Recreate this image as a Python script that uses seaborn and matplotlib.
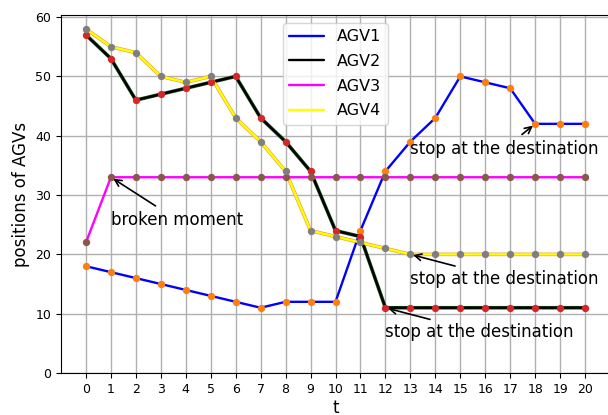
import numpy as np
import pandas as pd
import matplotlib
matplotlib.use("Agg")
import matplotlib.pyplot as plt
import seaborn as sns

# ------------------------------------
# Data
# ------------------------------------
t = list(range(21))
agv1 = [18, 17, 16, 15, 14, 13, 12, 11, 12, 12, 12, 24, 34, 39, 43, 50, 49, 48, 42, 42, 42]
agv2 = [57, 53, 46, 47, 48, 49, 50, 43, 39, 34, 24, 23, 11, 11, 11, 11, 11, 11, 11, 11, 11]
agv3 = [22, 33, 33, 33, 33, 33, 33, 33, 33, 33, 33, 33, 33, 33, 33, 33, 33, 33, 33, 33, 33]
agv4 = [58, 55, 54, 50, 49, 50, 43, 39, 34, 24, 23, 22, 21, 20, 20, 20, 20, 20, 20, 20, 20]
labels = ["AGV1", "AGV2", "AGV3", "AGV4"]

df = pd.DataFrame({"t": t, "AGV1": agv1, "AGV2": agv2, "AGV3": agv3, "AGV4": agv4})

# ------------------------------------
# Figure
# ------------------------------------
sns.set_style("ticks", {"text.color": "black", "axes.labelcolor": "black",
                        "xtick.color": "black", "ytick.color": "black",
                        "axes.edgecolor": "black"})
plt.rcParams["font.family"] = ["DejaVu Sans"]

fig = plt.figure(figsize=(6.08, 4.15), dpi=100)
ax = fig.add_axes([61 / 608, 42 / 415, 549 / 608, 358 / 415])

# under-strokes give the slight tinted edge seen on AGV2 / AGV4
sns.lineplot(data=df, x="t", y="AGV2", color="#1f5a1f", lw=2.6, ax=ax, legend=False)
sns.lineplot(data=df, x="t", y="AGV4", color="#e8a040", lw=2.6, ax=ax, legend=False)

line_colors = ["blue", "black", "magenta", "yellow"]
for name, c in zip(labels, line_colors):
    sns.lineplot(data=df, x="t", y=name, color=c, lw=1.7, label=name, ax=ax)

marker_colors = ["tab:orange", "tab:red", "tab:brown", "tab:gray"]
for name, c in zip(labels, marker_colors):
    sns.scatterplot(data=df, x="t", y=name, color=c, s=28, linewidth=0,
                    ax=ax, legend=False, zorder=3)

# ------------------------------------
# Annotations
# ------------------------------------
arrow = dict(arrowstyle="->", color="black", lw=1.2)
ax.annotate("broken moment", xy=(1, 33), xytext=(1, 25), fontsize=12, arrowprops=arrow)
ax.annotate("stop at the destination", xy=(18, 42), xytext=(13, 37), fontsize=12, arrowprops=arrow)
ax.annotate("stop at the destination", xy=(13, 20), xytext=(13, 15), fontsize=12, arrowprops=arrow)
ax.annotate("stop at the destination", xy=(12, 11), xytext=(12, 6), fontsize=12, arrowprops=arrow)

ax.set_xlim(-1, 21)
ax.set_ylim(0, 60.35)
ax.set_xticks(t)
ax.set_yticks([0, 10, 20, 30, 40, 50, 60])
ax.tick_params(labelsize=9)
ax.grid(True, color="#b0b0b0", lw=1)
ax.set_axisbelow(True)
ax.set_xlabel("t", fontsize=12, labelpad=2)
ax.set_ylabel("positions of AGVs", fontsize=12)
for s in ax.spines.values():
    s.set_visible(True)
    s.set_color("black")

ax.legend(loc="upper center", fontsize=11.5, handlelength=2.2, labelspacing=0.6)

fig.savefig("out.png", dpi=100)
